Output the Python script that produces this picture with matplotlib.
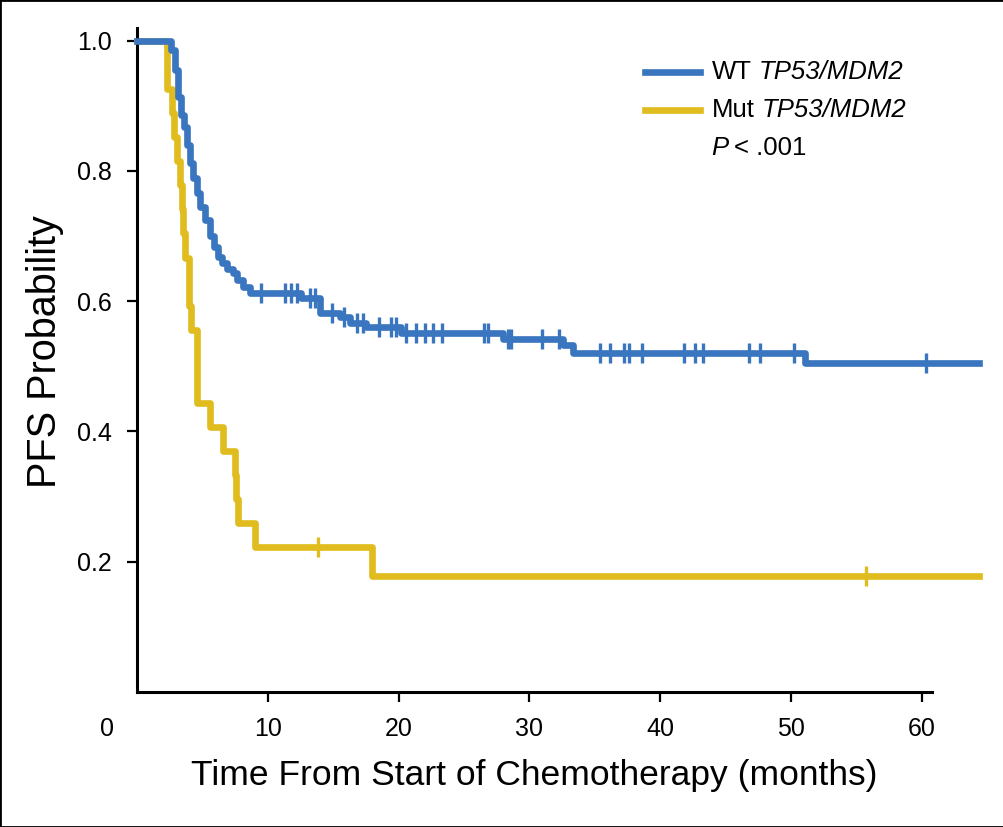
import numpy as np
import matplotlib.pyplot as plt
from matplotlib.patches import Rectangle

plt.rcParams['font.family'] = ['Liberation Sans', 'DejaVu Sans']

# WT TP53/MDM2 : step times (months) and survival after each step
wt_t = [0, 2.6, 2.9, 3.1, 3.35, 3.6, 3.8, 4.05, 4.3, 4.6, 4.8, 5.2, 5.6, 5.9,
        6.2, 6.5, 6.9, 7.3, 7.65, 8.1, 8.6, 9.2, 12.5, 14.0, 15.5, 16.3, 17.5,
        20.2, 28.0, 32.6, 33.3, 51.1, 64.4]
wt_s = [1.0, 0.985, 0.955, 0.913, 0.886, 0.867, 0.84, 0.812, 0.789, 0.766,
        0.744, 0.724, 0.70, 0.683, 0.668, 0.658, 0.65, 0.643, 0.632, 0.622,
        0.612, 0.612, 0.605, 0.582, 0.575, 0.567, 0.56, 0.551, 0.542, 0.533,
        0.52, 0.505, 0.505]
wt_cens_t = [9.5, 11.3, 11.8, 12.2, 13.2, 13.6, 14.9, 15.8, 16.8, 17.3, 18.5,
             19.4, 19.8, 20.6, 21.3, 22.0, 22.6, 23.3, 26.5, 26.8, 28.4, 28.6,
             31.0, 32.3, 35.4, 36.2, 37.2, 37.6, 38.6, 41.8, 42.7, 43.3, 46.8,
             47.6, 50.2, 60.3]

# Mut TP53/MDM2
mut_t = [0, 2.3, 2.7, 2.85, 3.05, 3.3, 3.45, 3.55, 3.65, 3.95, 4.1, 4.55, 5.6,
         6.6, 7.5, 7.6, 7.7, 9.0, 18.0, 64.4]
mut_s = [1.0, 0.926, 0.889, 0.852, 0.815, 0.778, 0.741, 0.704, 0.667, 0.593,
         0.556, 0.444, 0.407, 0.370, 0.333, 0.296, 0.259, 0.222, 0.178, 0.178]
mut_cens_t = [13.8, 55.7]

groups = ['WT', 'Mut']
gene = 'TP53/MDM2'


def surv_at(ts, ss, x):
    i = np.searchsorted(ts, x, side='right') - 1
    return ss[i]


blue = '#3a76bf'
yellow = '#e1bc1e'

fig = plt.figure(figsize=(10.04, 8.27), dpi=100)
ax = fig.add_axes([0.1365, 0.1632, 0.8415, 0.8035])

ax.plot(wt_t, wt_s, drawstyle='steps-post', color=blue, lw=4.8,
        clip_on=False, zorder=3)
ax.plot(mut_t, mut_s, drawstyle='steps-post', color=yellow, lw=4.8,
        clip_on=False, zorder=2)

ax.plot(wt_cens_t, [surv_at(wt_t, wt_s, c) for c in wt_cens_t], '|',
        color=blue, ms=14, mew=2.4, zorder=3)
ax.plot(mut_cens_t, [surv_at(mut_t, mut_s, c) for c in mut_cens_t], '|',
        color=yellow, ms=14, mew=2.4, zorder=2)

ax.set_xlim(0, 64.6)
ax.set_ylim(0, 1.02)
ax.spines['top'].set_visible(False)
ax.spines['right'].set_visible(False)
ax.spines['bottom'].set_bounds(0, 60.8)
for s in ['left', 'bottom']:
    ax.spines[s].set_linewidth(2.2)

ax.set_xticks([10, 20, 30, 40, 50, 60])
ax.set_yticks([0.2, 0.4, 0.6, 0.8, 1.0])
ax.set_yticklabels(['0.2', '0.4', '0.6', '0.8', '1.0'])
ax.tick_params(direction='out', length=7, width=1.6, labelsize=18, pad=11)
ax.annotate('0', xy=(0, 0), xytext=(-30, -37), textcoords='offset pixels',
            ha='center', va='center', fontsize=18)

ax.set_xlabel('Time From Start of Chemotherapy (months)', fontsize=25.5)
ax.xaxis.set_label_coords(0.4706, -0.125)
ax.xaxis.label.set_va('center')
ax.set_ylabel('PFS Probability', fontsize=28.5)
ax.yaxis.set_label_coords(-0.109, 0.512)
ax.yaxis.label.set_va('center')

# legend drawn by hand so that only the gene names are italic
leg_y = [0.933, 0.876]
for g, col, yy in zip(groups, [blue, yellow], leg_y):
    ax.plot([0.601, 0.666], [yy, yy], color=col, lw=4.8,
            transform=ax.transAxes, clip_on=False)
    t1 = ax.text(0.68, yy, g, transform=ax.transAxes, fontsize=18.5,
                 ha='left', va='center')
    ax.annotate(gene, xy=(1, 0.5), xycoords=t1, xytext=(5, 0),
                textcoords='offset points', fontsize=18.5, style='italic',
                ha='left', va='center')
tp = ax.text(0.68, 0.819, 'P', transform=ax.transAxes, fontsize=18.5,
             style='italic', ha='left', va='center')
ax.annotate('< .001', xy=(1, 0.5), xycoords=tp, xytext=(4, 0),
            textcoords='offset points', fontsize=18.5, ha='left', va='center')

fig.patches.append(Rectangle((0, 0), 1, 1, transform=fig.transFigure,
                             fill=False, edgecolor='black', lw=2))

fig.savefig('out.png', dpi=100)
